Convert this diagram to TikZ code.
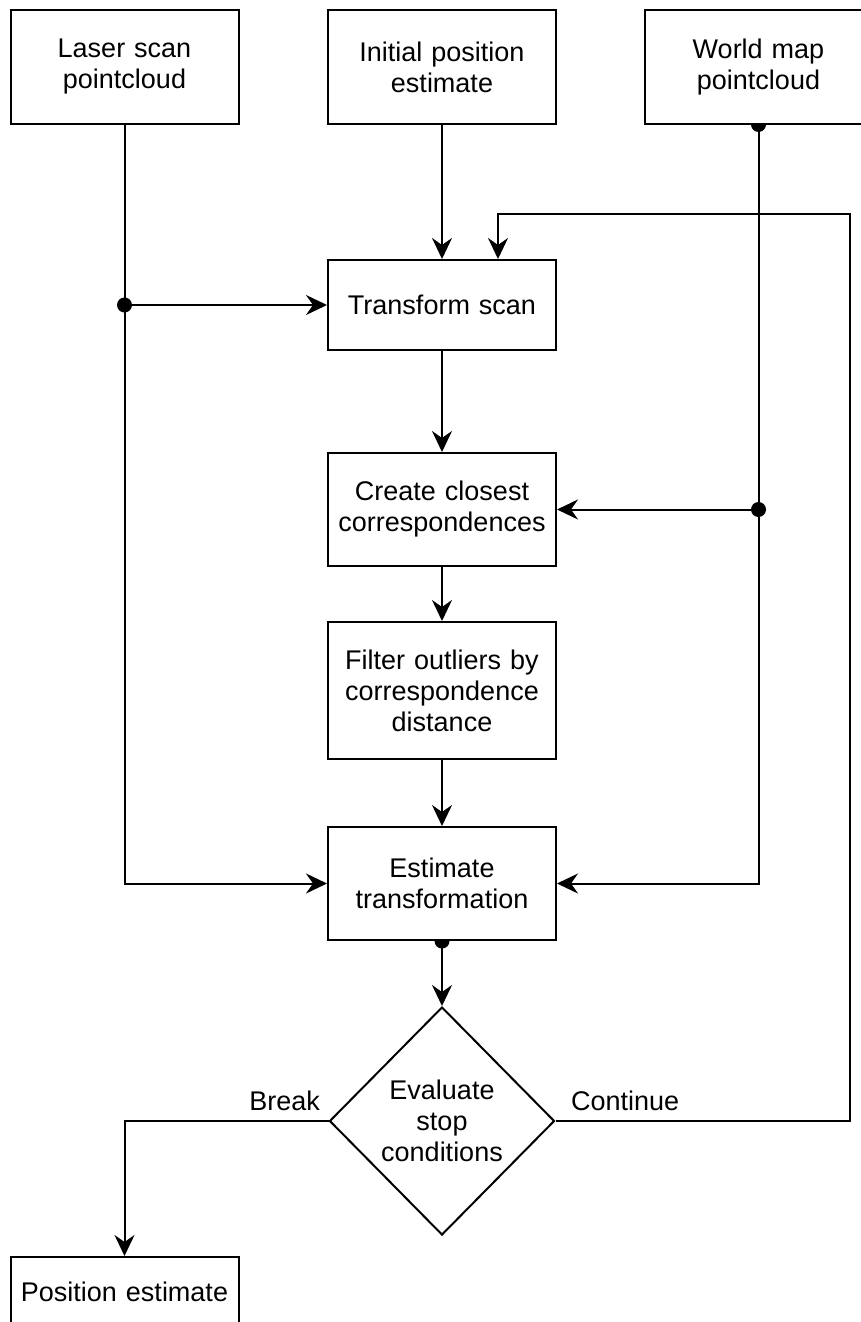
\documentclass[tikz,border=0pt]{standalone}
\usepackage{fontspec}
\setmainfont{Liberation Sans}
\usetikzlibrary{arrows.meta,shapes.geometric,backgrounds}

\tikzset{
  block/.style={draw, fill=white, line width=2pt, align=center,
    font=\fontsize{27}{31}\selectfont, text width=210pt,
    minimum width=228pt, minimum height=113pt, inner sep=0pt},
  decision/.style={diamond, draw, fill=white, line width=2pt, align=center,
    font=\fontsize{27}{31}\selectfont,
    minimum width=225pt, minimum height=228pt, inner sep=0pt},
  link/.style={line width=2pt, -{Stealth[length=21pt,width=20pt,inset=7pt]}},
  tag/.style={font=\fontsize{27}{31}\selectfont, inner sep=0pt}
}

\begin{document}
\begin{tikzpicture}[x=1pt, y=-1pt]
  \path[use as bounding box] (0,0) rectangle (861,1322);
  \clip (0,0) rectangle (861,1322);

  % inputs
  \node[block] (scan) at (124.5,67) {Laser scan\\pointcloud};
  \node[block] (init) at (442,67) {Initial position\\estimate};
  \node[block] (world) at (758.5,67) {World map\\pointcloud};

  % icp loop
  \node[block, minimum height=90pt] (trans) at (442,305) {Transform scan};
  \node[block] (corr) at (442,509.5) {Create closest\\correspondences};
  \node[block, minimum height=137pt] (filt) at (442,690.5) {Filter outliers by\\correspondence\\distance};
  \node[block] (est) at (442,883.5) {Estimate\\transformation};
  \node[decision] (stop) at (442,1121) {Evaluate\\stop\\conditions};
  \node[block, minimum height=70pt] (pos) at (124.5,1292) {Position estimate};

  \draw[link] (init) -- (trans);
  \draw[link] (trans) -- (corr);
  \draw[link] (corr) -- (filt);
  \draw[link] (filt) -- (est);
  \draw[link] (est) -- (stop);

  % scan and map feeds
  \coordinate (scanjoin) at (scan.south |- trans.west);
  \coordinate (worldjoin) at (world.south |- corr.east);
  \draw[link] (scan.south) |- (est.west);
  \draw[link] (scanjoin) -- (trans.west);
  \draw[link] (world.south) |- (est.east);
  \draw[link] (worldjoin) -- (corr.east);
  \fill (scanjoin) circle (7.5pt);
  \fill (worldjoin) circle (7.5pt);
  \begin{scope}[on background layer]
    \fill (world.south) circle (7.5pt);
    \fill (est.south) circle (7.5pt);
  \end{scope}

  % exits of the decision
  \coordinate (loop) at (850,214);
  \draw[link] (stop.west) -| (pos.north);
  \draw[link] (stop.east) -| (loop) -| ([xshift=56pt]trans.north);
  \node[tag, anchor=base east] (breaktag) at (320,1110) {Break};
  \node[tag, anchor=base west] (conttag) at (571,1110) {Continue};
\end{tikzpicture}
\end{document}
